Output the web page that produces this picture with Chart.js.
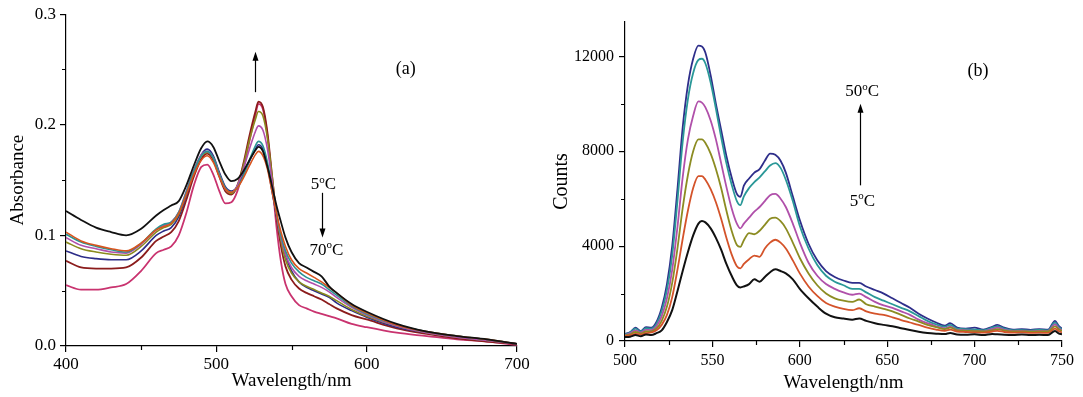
<!DOCTYPE html>
<html>
<head>
<meta charset="utf-8">
<script src="https://cdn.jsdelivr.net/npm/chart.js@4.4.1/dist/chart.umd.min.js"></script>
<style>
  html, body { margin: 0; padding: 0; background: #fff; }
  #wrap { position: relative; width: 1083px; height: 397px; overflow: hidden; }
  #chartA { position: absolute; left: 0; top: 0; }
  #chartB { position: absolute; left: 540px; top: 0; }
</style>
</head>
<body>
<div id="wrap">
  <canvas id="chartA" width="540" height="397"></canvas>
  <canvas id="chartB" width="543" height="397"></canvas>
</div>
<script>
// Two spectra panels: (a) absorbance 5-70 C, (b) emission counts 5-50 C.

const SERIF = '"Liberation Serif", "Times New Roman", serif';

// ---- (a) absorbance ----
const wlA = [400, 410, 420, 430, 440, 450, 460, 465, 470, 475, 480, 485, 490, 494, 498, 502, 506, 510, 514, 518,
  522, 526, 528, 531, 534, 537, 540, 543, 546, 550, 555, 560, 565, 570, 575, 580, 590, 600, 620, 640, 660, 680, 700];

const absBlack = [.122, .114, .107, .103, .100, .106, .118, .123, .127, .131, .145, .163, .179, .185, .180, .167, .155, .149, .151, .158,
  .168, .177, .180, .176, .162, .145, .127, .112, .098, .085, .075, .071, .067, .063, .054, .048, .038, .031, .020, .013, .009, .006, .002];
const absOrange = [.103, .095, .091, .088, .086, .093, .105, .108, .111, .120, .137, .155, .168, .172, .166, .153, .142, .139, .143, .152,
  .163, .173, .176, .172, .160, .140, .120, .103, .090, .078, .070, .066, .062, .058, .053, .048, .037, .030, .019, .013, .009, .006, .002];
const absTeal = [.101, .094, .090, .087, .085, .093, .106, .110, .112, .121, .139, .158, .172, .176, .170, .155, .143, .139, .143, .154,
  .168, .181, .185, .181, .166, .143, .120, .100, .086, .075, .067, .062, .059, .056, .051, .046, .036, .029, .019, .013, .009, .006, .002];
const absMagenta = [.098, .091, .088, .085, .084, .092, .105, .109, .112, .121, .140, .159, .173, .176, .170, .155, .142, .139, .145, .160,
  .178, .194, .199, .195, .178, .150, .120, .098, .083, .071, .063, .059, .056, .053, .049, .044, .035, .028, .018, .012, .008, .005, .002];
const absOlive = [.094, .088, .085, .083, .082, .090, .103, .107, .110, .119, .138, .158, .172, .175, .170, .155, .142, .138, .145, .163,
  .186, .205, .212, .208, .188, .155, .120, .095, .078, .066, .058, .054, .051, .048, .045, .041, .033, .027, .018, .012, .008, .005, .002];
const absNavy = [.086, .081, .079, .078, .078, .086, .100, .104, .107, .117, .136, .157, .173, .178, .172, .157, .144, .140, .144, .155,
  .167, .178, .182, .178, .163, .140, .118, .097, .082, .068, .058, .053, .050, .047, .044, .039, .032, .026, .017, .012, .008, .005, .002];
const absDarkRed = [.077, .071, .070, .070, .071, .080, .095, .099, .103, .113, .132, .153, .169, .174, .168, .153, .140, .137, .145, .165,
  .190, .212, .221, .216, .193, .155, .117, .090, .072, .060, .052, .048, .045, .042, .038, .034, .028, .024, .016, .011, .007, .004, .002];
const absCrimson = [.055, .051, .051, .053, .056, .068, .084, .087, .090, .100, .120, .145, .162, .164, .155, .140, .129, .130, .140, .160,
  .185, .209, .219, .214, .190, .150, .108, .076, .056, .045, .037, .034, .031, .029, .027, .025, .020, .017, .012, .009, .006, .004, .001];

// ---- (b) emission counts ----
const wlB = [500, 503, 506, 509, 512, 515, 518, 521, 524, 527, 530, 533, 536, 539, 542, 544, 546, 549, 552, 555,
  558, 561, 564, 566, 568, 571, 574, 577, 580, 583, 586, 589, 592, 596, 600, 605, 610, 615, 620, 625,
  630, 634, 638, 643, 648, 653, 658, 663, 668, 673, 678, 683, 686, 690, 695, 700, 705, 710, 713, 717,
  722, 727, 732, 737, 742, 746, 748, 750];
const countTicks = [0, 4000, 8000, 12000];

const cntNavy = [300, 380, 560, 420, 580, 560, 800, 1400, 2400, 4000, 6400, 9000, 10800, 11900, 12450, 12420, 12150, 11200, 10000, 8900,
  7800, 6900, 6200, 6080, 6550, 6850, 7100, 7250, 7600, 7900, 7850, 7600, 7100, 6100, 5100, 4100, 3400, 2950, 2700, 2550,
  2450, 2450, 2300, 2150, 2000, 1800, 1600, 1400, 1150, 950, 780, 650, 750, 560, 520, 560, 480, 600, 680, 560,
  480, 500, 470, 500, 480, 850, 650, 520];
const cntTeal = [280, 360, 520, 400, 540, 520, 720, 1250, 2150, 3600, 5900, 8400, 10200, 11300, 11850, 11900, 11700, 10900, 9800, 8600,
  7500, 6600, 5900, 5730, 6100, 6450, 6700, 6900, 7150, 7400, 7500, 7300, 6800, 5900, 4850, 3900, 3200, 2750, 2500, 2350,
  2200, 2200, 2050, 1850, 1700, 1550, 1400, 1250, 1050, 850, 700, 600, 680, 520, 500, 480, 450, 560, 620, 520,
  450, 460, 440, 470, 450, 780, 600, 480];
const cntMagenta = [250, 320, 450, 360, 470, 460, 620, 1050, 1800, 3000, 4800, 6900, 8500, 9500, 10100, 10050, 9850, 9300, 8500, 7500,
  6500, 5600, 4950, 4750, 4950, 5200, 5450, 5650, 5900, 6150, 6200, 6000, 5650, 4950, 4150, 3300, 2750, 2400, 2200, 2050,
  1950, 2000, 1850, 1650, 1500, 1400, 1250, 1100, 900, 750, 620, 530, 600, 470, 450, 430, 410, 500, 560, 470,
  420, 430, 410, 430, 420, 700, 540, 440];
const cntOlive = [230, 280, 380, 320, 400, 410, 530, 850, 1450, 2450, 3900, 5600, 7000, 8000, 8500, 8500, 8350, 7900, 7250, 6450,
  5500, 4650, 4050, 3970, 4250, 4550, 4500, 4650, 4900, 5150, 5200, 5050, 4750, 4150, 3500, 2850, 2350, 2000, 1800, 1700,
  1650, 1750, 1550, 1450, 1350, 1250, 1100, 950, 820, 680, 580, 500, 560, 450, 430, 420, 400, 450, 500, 440,
  400, 410, 390, 400, 400, 620, 500, 420];
const cntOrange = [200, 240, 300, 270, 330, 360, 450, 680, 1100, 1850, 3000, 4300, 5500, 6450, 6950, 6950, 6800, 6400, 5850, 5150,
  4350, 3650, 3150, 3060, 3250, 3450, 3600, 3550, 3900, 4150, 4270, 4150, 3900, 3400, 2850, 2300, 1900, 1600, 1450, 1350,
  1300, 1380, 1250, 1150, 1100, 1000, 880, 780, 680, 560, 480, 430, 480, 400, 380, 360, 350, 400, 430, 380,
  350, 360, 340, 350, 340, 520, 420, 360];
const cntBlack = [170, 180, 250, 200, 270, 250, 330, 450, 800, 1300, 2100, 2950, 3750, 4450, 4950, 5060, 5000, 4750, 4350, 3850,
  3250, 2750, 2350, 2260, 2300, 2400, 2600, 2500, 2700, 2900, 3020, 2950, 2850, 2600, 2200, 1800, 1450, 1150, 1000, 950,
  900, 950, 850, 750, 680, 620, 540, 460, 390, 340, 310, 290, 340, 270, 260, 280, 250, 300, 280, 260,
  250, 270, 250, 260, 250, 420, 320, 280];

function pairs(xs, ys) {
  return xs.map((x, i) => ({ x, y: ys[i] }));
}

function lineSet(label, xs, ys, color, width) {
  return {
    label,
    data: pairs(xs, ys),
    borderColor: color,
    backgroundColor: color,
    borderWidth: width,
    pointRadius: 0,
    fill: false,
    cubicInterpolationMode: 'monotone',
  };
}

function axis(o) {
  const cfg = {
    type: 'linear',
    min: o.min,
    max: o.max,
    border: { display: true, color: '#000', width: 1.2 },
    grid: { display: true, drawOnChartArea: false, drawTicks: true, tickLength: 6, color: '#000', lineWidth: 1.2 },
    ticks: {
      stepSize: o.step,
      color: '#000',
      font: { family: SERIF, size: o.fontSize },
      padding: o.pad,
      maxRotation: 0,
      autoSkip: false,
      callback: o.fmt,
    },
    title: {
      display: true,
      text: o.title,
      color: '#000',
      font: { family: SERIF, size: o.titleSize },
      padding: o.titlePad,
    },
    afterFit: (s) => {
      if (o.width) s.width = o.width;
      if (o.height) s.height = o.height;
    },
  };
  // fixed tick list where the axis max is not a whole step
  if (o.tickValues) cfg.afterBuildTicks = (s) => { s.ticks = o.tickValues.map((v) => ({ value: v })); };
  return cfg;
}

// text with a superscript "o" in place of the degree sign
function drawLabel(ctx, text, cx, cy, size) {
  const big = `${size}px ${SERIF}`;
  const small = `${Math.round(size * 0.62)}px ${SERIF}`;
  const segs = [];
  text.split('°').forEach((p, i) => {
    if (i > 0) segs.push({ t: 'o', sup: true });
    if (p) segs.push({ t: p, sup: false });
  });
  let total = 0;
  segs.forEach((s) => { ctx.font = s.sup ? small : big; s.w = ctx.measureText(s.t).width; total += s.w; });
  let px = cx - total / 2;
  const base = cy + size * 0.33;
  ctx.textAlign = 'left';
  ctx.textBaseline = 'alphabetic';
  segs.forEach((s) => {
    ctx.font = s.sup ? small : big;
    ctx.fillText(s.t, px, s.sup ? base - size * 0.4 : base);
    px += s.w;
  });
}

const notesPlugin = {
  id: 'notes',
  afterDatasetsDraw(chart, args, opts) {
    const { ctx, scales: { x, y } } = chart;
    ctx.save();
    ctx.fillStyle = '#000';
    ctx.strokeStyle = '#000';
    (opts.arrows || []).forEach((a) => {
      const px = Math.round(x.getPixelForValue(a.x)) + 0.5;
      const y0 = y.getPixelForValue(a.from);
      const y1 = y.getPixelForValue(a.to);
      const dir = Math.sign(y1 - y0);
      ctx.lineWidth = 1.2;
      ctx.beginPath();
      ctx.moveTo(px, y0);
      ctx.lineTo(px, y1 - dir * 6);
      ctx.stroke();
      ctx.beginPath();
      ctx.moveTo(px, y1);
      ctx.lineTo(px - 3, y1 - dir * 9);
      ctx.lineTo(px + 3, y1 - dir * 9);
      ctx.closePath();
      ctx.fill();
    });
    (opts.labels || []).forEach((l) => {
      drawLabel(ctx, l.text, x.getPixelForValue(l.x), y.getPixelForValue(l.y), l.size);
    });
    ctx.restore();
  },
};

const minorTicksPlugin = {
  id: 'minorTicks',
  afterDraw(chart) {
    const { ctx, scales: { x, y } } = chart;
    const mids = (s) => s.ticks.slice(1).map((t, i) => (t.value + s.ticks[i].value) / 2);
    ctx.save();
    ctx.strokeStyle = '#000';
    ctx.lineWidth = 1.2;
    ctx.beginPath();
    mids(x).forEach((v) => {
      const p = Math.round(x.getPixelForValue(v)) + 0.5;
      ctx.moveTo(p, x.top);
      ctx.lineTo(p, x.top + 4);
    });
    mids(y).forEach((v) => {
      const p = Math.round(y.getPixelForValue(v)) + 0.5;
      ctx.moveTo(y.right - 4, p);
      ctx.lineTo(y.right, p);
    });
    ctx.stroke();
    ctx.restore();
  },
};

function baseOptions(padding, scales, notes) {
  return {
    responsive: false,
    animation: false,
    events: [],
    layout: { padding },
    plugins: { legend: { display: false }, tooltip: { enabled: false }, notes },
    scales,
  };
}

new Chart(document.getElementById('chartA'), {
  type: 'line',
  data: {
    datasets: [
      lineSet('5 °C', wlA, absBlack, '#111111', 1.8),
      lineSet('b', wlA, absOrange, '#d8541e', 1.6),
      lineSet('c', wlA, absTeal, '#2a9494', 1.6),
      lineSet('d', wlA, absMagenta, '#b04fab', 1.6),
      lineSet('e', wlA, absOlive, '#8a8a1c', 1.6),
      lineSet('f', wlA, absNavy, '#2c2c88', 1.6),
      lineSet('g', wlA, absDarkRed, '#8b1c1c', 1.8),
      lineSet('70 °C', wlA, absCrimson, '#c9336f', 1.8),
    ],
  },
  options: baseOptions(
    { left: 0, right: 23, top: 13, bottom: 0 },
    {
      x: axis({ min: 400, max: 700, step: 100, fontSize: 17, pad: 2, fmt: (v) => String(v),
        title: 'Wavelength/nm', titleSize: 19, titlePad: { top: 0, bottom: 5 }, height: 51 }),
      y: axis({ min: 0, max: 0.3, step: 0.1, fontSize: 17, pad: 4, fmt: (v) => v.toFixed(1),
        title: 'Absorbance', titleSize: 19, titlePad: { top: 7, bottom: 0 }, width: 66 }),
    },
    {
      labels: [
        { text: '(a)', x: 626, y: 0.251, size: 18 },
        { text: '5°C', x: 571.3, y: 0.1466, size: 17 },
        { text: '70°C', x: 573.2, y: 0.0871, size: 17 },
      ],
      arrows: [
        { x: 525.6, from: 0.2295, to: 0.266 },
        { x: 570.6, from: 0.1385, to: 0.0982 },
      ],
    }
  ),
  plugins: [notesPlugin, minorTicksPlugin],
});

new Chart(document.getElementById('chartB'), {
  type: 'line',
  data: {
    datasets: [
      lineSet('5 °C', wlB, cntBlack, '#111111', 2),
      lineSet('b', wlB, cntOrange, '#d4532a', 1.8),
      lineSet('c', wlB, cntOlive, '#8c8c22', 1.8),
      lineSet('d', wlB, cntMagenta, '#b050aa', 1.8),
      lineSet('e', wlB, cntTeal, '#2a9898', 1.8),
      lineSet('50 °C', wlB, cntNavy, '#2e2e8a', 1.8),
    ],
  },
  options: baseOptions(
    { left: 0, right: 21, top: 22, bottom: 0 },
    {
      x: axis({ min: 500, max: 750, step: 50, fontSize: 16, pad: 4, fmt: (v) => String(v),
        title: 'Wavelength/nm', titleSize: 19, titlePad: { top: 0, bottom: 3 }, height: 56 }),
      y: axis({ min: 0, max: 13450, step: 4000, fontSize: 16, pad: 5, fmt: (v) => String(v),
        title: 'Counts', titleSize: 20, titlePad: { top: 10, bottom: 0 }, width: 85,
        tickValues: countTicks }),
    },
    {
      labels: [
        { text: '(b)', x: 702, y: 11410, size: 18 },
        { text: '50°C', x: 635.7, y: 10546, size: 17 },
        { text: '5°C', x: 635.8, y: 5931, size: 17 },
      ],
      arrows: [
        { x: 634.3, from: 6563, to: 10006 },
      ],
    }
  ),
  plugins: [notesPlugin, minorTicksPlugin],
});
</script>
</body>
</html>
